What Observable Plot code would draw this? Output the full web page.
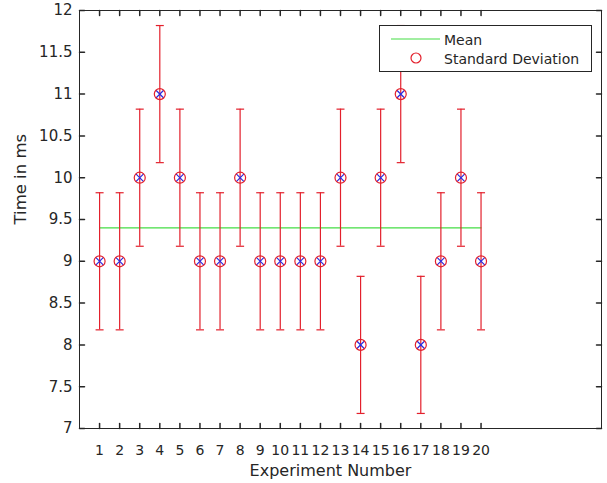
<!DOCTYPE html>
<html>
<head>
<meta charset="utf-8">
<script src="https://cdn.jsdelivr.net/npm/d3@7"></script>
<script src="https://cdn.jsdelivr.net/npm/@observablehq/plot@0.6"></script>
<style>
  html, body { margin: 0; padding: 0; background: #fff; }
  #chart svg { display: block; }
</style>
</head>
<body>
<div id="chart"></div>
<script>
// Measured run times per experiment (ms)
const experiments = [1, 2, 3, 4, 5, 6, 7, 8, 9, 10, 11, 12, 13, 14, 15, 16, 17, 18, 19, 20];
const times = [9, 9, 10, 11, 10, 9, 9, 10, 9, 9, 9, 9, 10, 8, 10, 11, 8, 9, 10, 9];
const meanTime = 9.4;
const stdDev = 0.82;

const xTicks = experiments;
const yTicks = [7, 7.5, 8, 8.5, 9, 9.5, 10, 10.5, 11, 11.5, 12];
const xLabel = "Experiment Number";
const yLabel = "Time in ms";
const legendLabels = ["Mean", "Standard Deviation"];

const rows = experiments.map((e, i) => ({experiment: e, time: times[i]}));

const axisColor = "#262626";
const red = "#e3202c";
const blue = "#2a2ae0";
const green = "#45dd45";
const font = "DejaVu Sans";

// short line drawn from the anchor point "upward" in the vector's own frame
const tickShape = {draw(ctx, l) { ctx.moveTo(0, 0); ctx.lineTo(0, -l); }};
// horizontal cap for the error bars
const capSymbol = {draw(ctx, size) { const w = Math.sqrt(size / Math.PI); ctx.moveTo(-w, 0); ctx.lineTo(w, 0); }};

const tickLen = 5;

const chart = Plot.plot({
  width: 607,
  height: 483,
  marginLeft: 79,
  marginRight: 6,
  marginTop: 10,
  marginBottom: 55,
  style: {fontFamily: font, background: "#fff", color: axisColor},
  x: {domain: [0, 26]},
  y: {domain: [7, 12]},
  marks: [
    Plot.frame({stroke: axisColor, strokeWidth: 1}),
    // inward tick marks on all four sides
    Plot.vector(xTicks, {x: d => d, frameAnchor: "bottom", length: tickLen, rotate: 0, anchor: "start", shape: tickShape, stroke: axisColor}),
    Plot.vector(xTicks, {x: d => d, frameAnchor: "top", length: tickLen, rotate: 180, anchor: "start", shape: tickShape, stroke: axisColor}),
    Plot.vector(yTicks, {y: d => d, frameAnchor: "left", length: tickLen, rotate: 90, anchor: "start", shape: tickShape, stroke: axisColor}),
    Plot.vector(yTicks, {y: d => d, frameAnchor: "right", length: tickLen, rotate: -90, anchor: "start", shape: tickShape, stroke: axisColor}),
    Plot.axisX({ticks: xTicks, tickSize: 0, tickPadding: 17, fontSize: 14, label: null, fill: axisColor}),
    Plot.axisY({ticks: yTicks, tickSize: 0, tickPadding: 7, fontSize: 15, label: null, fill: axisColor, tickFormat: d => String(d)}),
    // axis titles
    Plot.text([xLabel], {text: d => d, frameAnchor: "bottom", dy: 47, dx: -10, fontSize: 16, fill: axisColor}),
    Plot.text([yLabel], {text: d => d, frameAnchor: "left", dx: -59, dy: 5, rotate: -90, fontSize: 16.5, fill: axisColor}),
    // mean line
    Plot.lineY(rows, {x: "experiment", y: () => meanTime, stroke: green, strokeWidth: 1.2}),
    // error bars
    Plot.ruleX(rows, {x: "experiment", y1: d => d.time - stdDev, y2: d => d.time + stdDev, stroke: red, strokeWidth: 1.2}),
    Plot.dot(rows, {x: "experiment", y: d => d.time - stdDev, symbol: capSymbol, r: 4, stroke: red, fill: "none", strokeWidth: 1.2}),
    Plot.dot(rows, {x: "experiment", y: d => d.time + stdDev, symbol: capSymbol, r: 4, stroke: red, fill: "none", strokeWidth: 1.2}),
    // data points
    Plot.dot(rows, {x: "experiment", y: "time", symbol: "times", r: 3.6, stroke: blue, strokeWidth: 1.2}),
    Plot.dot(rows, {x: "experiment", y: "time", symbol: "circle", r: 5.5, stroke: red, fill: "none", strokeWidth: 1.2})
  ]
});

document.getElementById("chart").appendChild(chart);

// legend box in the upper right of the axes
const svg = d3.select(chart);
const lg = svg.append("g").attr("font-family", font).attr("font-size", 14)
  .attr("fill", axisColor).attr("text-anchor", "start");
lg.append("rect").attr("x", 379.5).attr("y", 25.5).attr("width", 212).attr("height", 46)
  .attr("fill", "#fff").attr("stroke", axisColor).attr("stroke-width", 1);
lg.append("line").attr("x1", 391).attr("x2", 440).attr("y1", 39).attr("y2", 39)
  .attr("stroke", green).attr("stroke-width", 1.2);
lg.append("text").attr("x", 444).attr("y", 40).attr("dy", "0.35em").text(legendLabels[0]);
lg.append("circle").attr("cx", 416).attr("cy", 58).attr("r", 5)
  .attr("fill", "none").attr("stroke", red).attr("stroke-width", 1.2);
lg.append("text").attr("x", 444).attr("y", 59).attr("dy", "0.35em").text(legendLabels[1]);
</script>
</body>
</html>
